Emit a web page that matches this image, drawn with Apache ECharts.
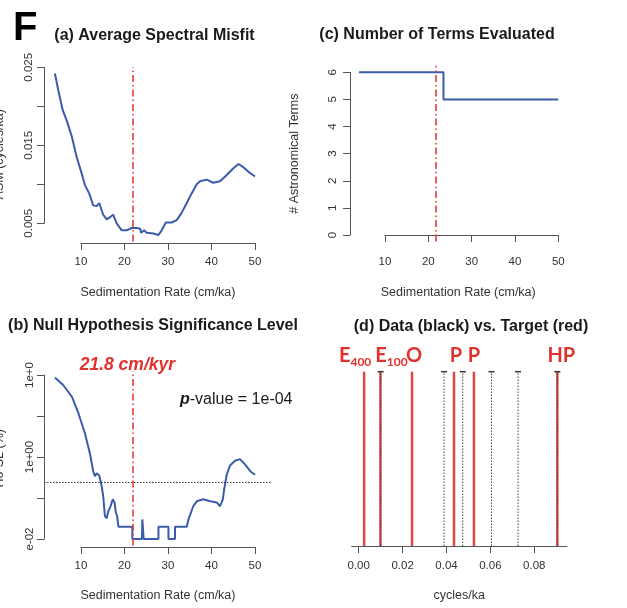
<!DOCTYPE html>
<html>
<head>
<meta charset="utf-8">
<script src="https://cdn.jsdelivr.net/npm/echarts@6/dist/echarts.min.js"></script>
<style>
  html, body { margin: 0; padding: 0; background: #ffffff; }
  #chart { width: 627px; height: 608px; }
</style>
</head>
<body>
<div id="chart"></div>
<script>
// (a) Average spectral misfit (cycles/ka) against sedimentation rate (cm/ka)
const rateA = [4, 4.8, 5.8, 6.7, 7.9, 9.0, 10.15, 10.9, 11.9, 12.8, 13.6, 14.2, 15.1, 15.9, 16.7, 17.4,
  18.2, 19.35, 20.5, 21.65, 22.8, 23.6, 23.8, 24.5, 25.1, 26.6, 27.8, 28.55, 29.5, 30.85, 32.0, 33.1,
  34.3, 35.4, 36.6, 37.35, 38.9, 40.4, 41.95, 43.5, 44.9, 46.2, 47.3, 48.5, 50];
const asmA = [0.0242, 0.0220, 0.0195, 0.0182, 0.0161, 0.0135, 0.0114, 0.0099, 0.0088, 0.0073, 0.0072,
  0.0076, 0.0061, 0.0055, 0.0058, 0.0061, 0.0050, 0.0041, 0.0041, 0.0044, 0.0044, 0.0043, 0.0038,
  0.0041, 0.0038, 0.0037, 0.0035, 0.0041, 0.0051, 0.0051, 0.0054, 0.0063, 0.0076, 0.0088, 0.0100,
  0.0104, 0.0106, 0.0102, 0.0104, 0.0112, 0.0120, 0.0126, 0.0122, 0.0116, 0.0110];

// (b) Null hypothesis significance level (%) against sedimentation rate
const rateB = [4, 5.9, 7.9, 9.4, 10.9, 12.1, 12.8, 13.2, 13.6, 14.2, 14.75, 15.1, 15.5, 15.9, 16.3,
  16.7, 17.3, 17.7, 18.0, 18.3, 18.6, 21.8, 21.8, 24.0, 24.1, 24.3, 24.4, 27.8, 27.8, 30.1, 30.1,
  31.6, 31.6, 34.3, 34.7, 35.8, 36.6, 38.1, 39.7, 41.2, 41.95, 42.6, 42.9, 43.5, 44.25, 45.4, 46.55,
  47.7, 48.9, 50];
const h0slB = [87, 57, 29.5, 11.7, 3.8, 1.15, 0.45, 0.34, 0.40, 0.355, 0.195, 0.112, 0.036, 0.032,
  0.048, 0.059, 0.093, 0.078, 0.045, 0.036, 0.02, 0.02, 0.01, 0.01, 0.03, 0.03, 0.01, 0.01, 0.02,
  0.02, 0.01, 0.01, 0.02, 0.02, 0.03, 0.063, 0.083, 0.093, 0.083, 0.078, 0.063, 0.093, 0.162, 0.37,
  0.62, 0.81, 0.89, 0.66, 0.45, 0.37];
const sigLevel = 0.24;
const pValue = '1e-04';

// (c) Number of astronomical terms evaluated
const rateC = [4, 23.5, 50];
const termsC = [6, 5, 5];

// Optimal sedimentation rate (cm/kyr)
const optimalRate = 21.8;

// (d) Target astronomical frequencies and observed data frequencies (cycles/ka)
const targetFreq = [0.00247, 0.0099, 0.0243, 0.0434, 0.0525, 0.0905];
const targetName = ['E', 'E', 'O', 'P', 'P', 'HP'];
const targetSub = ['400', '100', '', '', '', ''];
const dataFreq = [0.0100, 0.0389, 0.0474, 0.0605, 0.0726, 0.0905];

// Axis tick values
const rateTicks = [10, 20, 30, 40, 50];
const freqTicks = [0, 0.02, 0.04, 0.06, 0.08];

const FONT = 'Liberation Sans, Arial, Helvetica, sans-serif';
const LABEL_FONT = 'Lato, Open Sans, Liberation Sans, sans-serif';
const BLUE = '#3b5ca8';
const RED = '#e0322f';
const BAR_RED = '#d94848';
const AX = '#555555';
const TXT = '#333333';

const pairs = (xs, ys) => xs.map((x, i) => [x, ys[i]]);

function hiddenAxis(extra) {
  return Object.assign({
    type: 'value',
    axisLine: { show: false }, axisTick: { show: false },
    axisLabel: { show: false }, splitLine: { show: false }
  }, extra);
}

function tickAxis(extra, label) {
  return Object.assign({
    type: 'value',
    splitLine: { show: false },
    axisLine: { show: true, lineStyle: { color: AX, width: 1 } },
    axisTick: { show: true, inside: false, length: 7, lineStyle: { color: AX, width: 1 } },
    axisLabel: Object.assign({ color: TXT, fontFamily: FONT, fontSize: 11.5 }, label)
  }, extra);
}

const nameStyle = { color: TXT, fontFamily: FONT, fontSize: 12.5 };

const grids = [
  // 0: (a) plot region, 1: (a) axes
  { left: 44, top: 67, width: 228, height: 174.5 },
  { left: 81, top: 67.3, width: 174, height: 156 },
  // 2: (c) plot region, 3: (c) axes
  { left: 350, top: 65.8, width: 216.5, height: 175.7 },
  { left: 385, top: 72.3, width: 173.3, height: 162.7 },
  // 4: (b) plot region, 5: (b) axes
  { left: 44, top: 371, width: 228, height: 174.5 },
  { left: 81, top: 375, width: 174, height: 164 },
  // 6: (d) plot region, 7: (d) axes
  { left: 351.7, top: 371.7, width: 215, height: 174.3 },
  { left: 358.7, top: 371.7, width: 175.6, height: 174.3 }
].map(g => Object.assign({ outerBoundsMode: 'none', containLabel: false }, g));

const xAxes = [
  hiddenAxis({ gridIndex: 0, min: 1.494, max: 53.9, name: 'Sedimentation Rate (cm/ka)',
    nameLocation: 'middle', nameGap: 45, nameTextStyle: nameStyle }),
  tickAxis({ gridIndex: 1, min: rateTicks[0], max: rateTicks[rateTicks.length - 1], interval: 10, offset: 19.7 },
    { margin: 13 }),
  hiddenAxis({ gridIndex: 2, min: 1.92, max: 51.9, name: 'Sedimentation Rate (cm/ka)',
    nameLocation: 'middle', nameGap: 45, nameTextStyle: nameStyle }),
  tickAxis({ gridIndex: 3, min: rateTicks[0], max: rateTicks[rateTicks.length - 1], interval: 10, offset: 8 },
    { margin: 13 }),
  hiddenAxis({ gridIndex: 4, min: 1.494, max: 53.9, name: 'Sedimentation Rate (cm/ka)',
    nameLocation: 'middle', nameGap: 44, nameTextStyle: nameStyle }),
  tickAxis({ gridIndex: 5, min: rateTicks[0], max: rateTicks[rateTicks.length - 1], interval: 10, offset: 8 },
    { margin: 13 }),
  {
    type: 'value', gridIndex: 6, min: -0.00319, max: 0.09476,
    axisLine: { show: true, lineStyle: { color: AX, width: 1.2 } },
    axisTick: { show: false }, axisLabel: { show: false }, splitLine: { show: false },
    name: 'cycles/ka', nameLocation: 'middle', nameGap: 43, nameTextStyle: nameStyle
  },
  tickAxis({ gridIndex: 7, min: freqTicks[0], max: freqTicks[freqTicks.length - 1], interval: 0.02,
    axisLine: { show: false } },
    { margin: 14, formatter: v => v.toFixed(2) })
];

const near = (a, b) => Math.abs(a - b) < 1e-9;

const yAxes = [
  hiddenAxis({ gridIndex: 0, min: 0.002667, max: 0.02504, name: 'ASM (cycles/ka)',
    nameLocation: 'middle', nameRotate: 90, nameGap: 38, nameTextStyle: nameStyle }),
  tickAxis({ gridIndex: 1, min: 0.005, max: 0.025, interval: 0.005, offset: 37 },
    { rotate: 90, margin: 9,
      formatter: v => (near(v, 0.01) || near(v, 0.02)) ? '' : v.toFixed(3) }),
  hiddenAxis({ gridIndex: 2, min: -0.24, max: 6.24, name: '# Astronomical Terms',
    nameLocation: 'middle', nameRotate: 90, nameGap: 49, nameTextStyle: nameStyle }),
  tickAxis({ gridIndex: 3, min: 0, max: 6, interval: 1, offset: 35 },
    { rotate: 90, margin: 11 }),
  hiddenAxis({ gridIndex: 4, type: 'log', min: 0.00694, max: 125.2, name: 'Ho-SL (%)',
    nameLocation: 'middle', nameRotate: 90, nameGap: 38, nameTextStyle: nameStyle }),
  tickAxis({ gridIndex: 5, type: 'log', logBase: 10, min: 0.01, max: 100, offset: 37 },
    { rotate: 90, margin: 8, showMinLabel: true, showMaxLabel: true,
      formatter: v => {
        const e = Math.round(Math.log10(v));
        if (e === 2) return '1e+0';
        if (e === 0) return '1e+00';
        if (e === -2) return 'e-02';
        return '';
      } }),
  hiddenAxis({ gridIndex: 6, min: 0, max: 1 }),
  hiddenAxis({ gridIndex: 7, min: 0, max: 1 })
];

const optimalLine = {
  xAxis: optimalRate,
  lineStyle: { color: RED, width: 1.5, type: [7, 3, 1.5, 3] }
};

// horizontal nudges for the red target labels
const labelShift = [-9, 11, 2, 2, 0, 4];

const targetData = targetFreq.map((f, i) => ({
  value: [f, 1],
  label: {
    offset: [labelShift[i], 0],
    formatter: targetSub[i] ? `{m|${targetName[i]}}{s|${targetSub[i]}}` : `{m|${targetName[i]}}`
  }
}));

const series = [
  {
    type: 'line', xAxisIndex: 0, yAxisIndex: 0, data: pairs(rateA, asmA),
    showSymbol: false, symbol: 'none', smooth: false,
    lineStyle: { color: BLUE, width: 2 }, z: 3,
    markLine: { silent: true, symbol: 'none', label: { show: false }, data: [optimalLine] }
  },
  {
    type: 'line', xAxisIndex: 2, yAxisIndex: 2, data: pairs(rateC, termsC),
    step: 'end', showSymbol: false, symbol: 'none',
    lineStyle: { color: BLUE, width: 2 }, z: 3,
    markLine: { silent: true, symbol: 'none', label: { show: false }, data: [optimalLine] }
  },
  {
    type: 'line', xAxisIndex: 4, yAxisIndex: 4, data: pairs(rateB, h0slB),
    showSymbol: false, symbol: 'none',
    lineStyle: { color: BLUE, width: 2 }, z: 3,
    markLine: {
      silent: true, symbol: 'none',
      data: [
        Object.assign({}, optimalLine, {
          label: {
            show: true, position: 'end', distance: 3, offset: [-5, 6],
            formatter: p => `${p.value} cm/kyr`,
            color: RED, fontFamily: FONT, fontSize: 17.5, fontWeight: 'bold', fontStyle: 'italic'
          }
        }),
        {
          yAxis: sigLevel,
          lineStyle: { color: '#333333', width: 1, type: [1.5, 1.5] },
          label: { show: false }
        }
      ]
    }
  },
  {
    type: 'bar', xAxisIndex: 6, yAxisIndex: 6, data: targetData,
    barWidth: 2.5, itemStyle: { color: BAR_RED }, z: 2,
    label: {
      show: true, position: 'top', distance: 4,
      rich: {
        m: { fontFamily: LABEL_FONT, fontSize: 20, fontWeight: 'bold', color: RED, lineHeight: 24 },
        s: { fontFamily: LABEL_FONT, fontSize: 12, fontWeight: 'bold', color: RED, lineHeight: 14,
             verticalAlign: 'bottom' }
      }
    }
  },
  {
    type: 'custom', xAxisIndex: 6, yAxisIndex: 6, z: 4,
    data: dataFreq.map(f => [f, 1]),
    encode: { x: 0, y: 1 },
    renderItem: (params, api) => {
      const base = api.coord([api.value(0), 0]);
      const tip = api.coord([api.value(0), api.value(1)]);
      return {
        type: 'group',
        children: [
          { type: 'line', shape: { x1: base[0], y1: base[1], x2: tip[0], y2: tip[1] },
            style: { stroke: '#444444', lineWidth: 1, lineDash: [1.5, 1.5] } },
          { type: 'line', shape: { x1: tip[0] - 3, y1: tip[1], x2: tip[0] + 3, y2: tip[1] },
            style: { stroke: '#333333', lineWidth: 1.5 } }
        ]
      };
    }
  }
];

const titleStyle = { fontFamily: FONT, fontSize: 16, fontWeight: 'bold', fill: '#1a1a1a',
  align: 'center', verticalAlign: 'middle' };

const graphic = [
  { type: 'text', x: 13, y: 9, style: { text: 'F', fontFamily: FONT, fontSize: 40, fontWeight: 'bold', fill: '#000000' } },
  { type: 'text', x: 154.5, y: 36, style: Object.assign({ text: '(a) Average Spectral Misfit' }, titleStyle) },
  { type: 'text', x: 437, y: 35, style: Object.assign({ text: '(c) Number of Terms Evaluated' }, titleStyle) },
  { type: 'text', x: 153, y: 326, style: Object.assign({ text: '(b) Null Hypothesis Significance Level' }, titleStyle) },
  { type: 'text', x: 471, y: 327, style: Object.assign({ text: '(d) Data (black) vs. Target (red)' }, titleStyle) },
  { type: 'text', x: 180, y: 400, style: {
      text: `{p|p}-value = ${pValue}`, fontFamily: FONT, fontSize: 16, fill: '#1a1a1a',
      verticalAlign: 'middle',
      rich: { p: { fontFamily: FONT, fontSize: 16, fontWeight: 'bold', fontStyle: 'italic', fill: '#1a1a1a' } }
    } }
];

const chart = echarts.init(document.getElementById('chart'), null, { renderer: 'canvas' });
chart.setOption({
  animation: false,
  backgroundColor: '#ffffff',
  textStyle: { fontFamily: FONT },
  grid: grids,
  xAxis: xAxes,
  yAxis: yAxes,
  series: series,
  graphic: graphic
});
</script>
</body>
</html>
